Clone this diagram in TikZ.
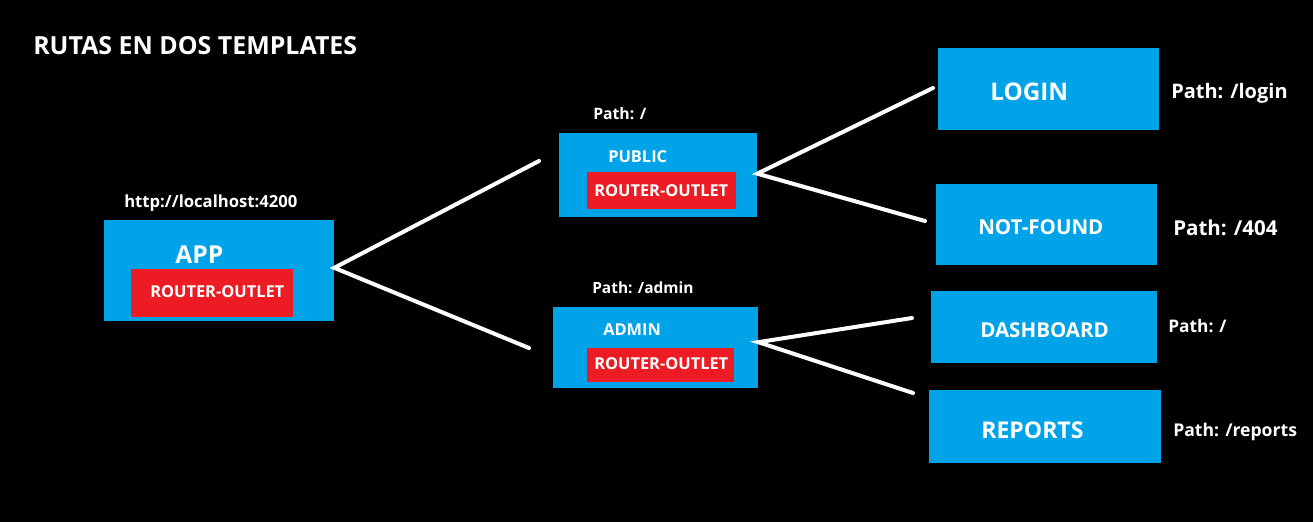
\documentclass[tikz,border=0pt]{standalone}
\usepackage{fontspec}
\setmainfont{Open Sans}
\usepackage{xcolor}
\usepackage{tikz}

\definecolor{paintblue}{HTML}{00A2E8}
\definecolor{paintred}{HTML}{ED1C24}

\begin{document}
\begin{tikzpicture}[x=0.75pt, y=-0.75pt,
  box/.style={fill=paintblue, inner sep=0pt},
  outlet/.style={fill=paintred, inner sep=0pt},
  txt/.style={text=white, font=\bfseries, inner sep=0pt, anchor=west},
  wire/.style={white, line width=3pt, line cap=round}]

\fill [black, use as bounding box] (0,0) rectangle (1313,522);

\node[txt, font=\bfseries\fontsize{18.7}{20}\selectfont] (title) at (33,46) {RUTAS EN DOS TEMPLATES};

\node[box, minimum width=172.5pt, minimum height=75.75pt] (app) at (219,270.5) {};
\node[outlet, minimum width=121.5pt, minimum height=36pt] (appout) at (212,293) {};
\node[txt, font=\bfseries\fontsize{18.5}{20}\selectfont] (applbl) at (175,255) {APP};
\node[txt, font=\bfseries\fontsize{12.3}{14}\selectfont] (appoutlbl) at (150,292) {ROUTER-OUTLET};
\node[txt, font=\bfseries\fontsize{12.5}{14}\selectfont] (apppath) at (124,203) {http://localhost:4200};

\node[box, minimum width=148.5pt, minimum height=63pt] (public) at (658,175) {};
\node[outlet, minimum width=111.75pt, minimum height=27.75pt] (pubout) at (661.5,190.5) {};
\node[txt, font=\bfseries\fontsize{12.3}{14}\selectfont] (publbl) at (608,157) {PUBLIC};
\node[txt, font=\bfseries\fontsize{12.3}{14}\selectfont] (puboutlbl) at (594,191) {ROUTER-OUTLET};
\node[txt, font=\bfseries\fontsize{11.8}{14}\selectfont] (pubpath) at (593,114) {Path: /};

\node[box, minimum width=153.75pt, minimum height=60.75pt] (admin) at (655.5,347.5) {};
\node[outlet, minimum width=110.25pt, minimum height=25.5pt] (admout) at (660.5,365) {};
\node[txt, font=\bfseries\fontsize{12.3}{14}\selectfont] (admlbl) at (603,330) {ADMIN};
\node[txt, font=\bfseries\fontsize{12.3}{14}\selectfont] (admoutlbl) at (594,364) {ROUTER-OUTLET};
\node[txt, font=\bfseries\fontsize{11.6}{14}\selectfont] (admpath) at (592,288) {Path: /admin};

\node[box, minimum width=165.75pt, minimum height=61.5pt] (login) at (1048.5,89) {};
\node[txt, font=\bfseries\fontsize{18.2}{20}\selectfont] (loginlbl) at (990,92) {LOGIN};
\node[txt, font=\bfseries\fontsize{15}{18}\selectfont] (loginpath) at (1171,93) {Path: /login};

\node[box, minimum width=165.75pt, minimum height=60.75pt] (notfound) at (1046.5,224.5) {};
\node[txt, font=\bfseries\fontsize{15.4}{18}\selectfont] (notfoundlbl) at (978,227) {NOT-FOUND};
\node[txt, font=\bfseries\fontsize{15.4}{18}\selectfont] (notfoundpath) at (1173,228) {Path: /404};

\node[box, minimum width=169.5pt, minimum height=54pt] (dash) at (1044,327) {};
\node[txt, font=\bfseries\fontsize{15.4}{18}\selectfont] (dashlbl) at (980,330) {DASHBOARD};
\node[txt, font=\bfseries\fontsize{13}{16}\selectfont] (dashpath) at (1168,326) {Path: /};

\node[box, minimum width=174pt, minimum height=54.75pt] (reports) at (1045,426.5) {};
\node[txt, font=\bfseries\fontsize{17.3}{20}\selectfont] (reportslbl) at (981,430) {REPORTS};
\node[txt, font=\bfseries\fontsize{13.2}{16}\selectfont] (reportspath) at (1173,432) {Path: /reports};

\coordinate (a1) at (539,161);
\coordinate (a2) at (529,348);
\coordinate (p1) at (933,88);
\coordinate (p2) at (925,221);
\coordinate (d1) at (912,318);
\coordinate (d2) at (913,393);

\draw [wire] (a1) -- ([yshift=2pt]app.east) -- (a2);
\draw [wire] (p1) -- ([yshift=1pt]public.east) -- (p2);
\draw [wire] (d1) -- ([yshift=4pt]admin.east) -- (d2);

\end{tikzpicture}
\end{document}
